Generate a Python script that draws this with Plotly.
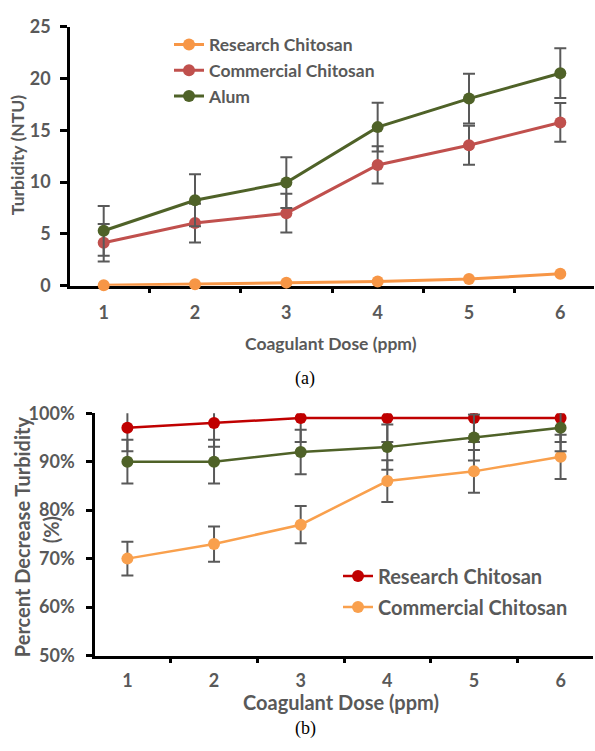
import plotly.graph_objects as go

# ---------------- data ----------------
doses = ["1", "2", "3", "4", "5", "6"]

# (a) Turbidity (NTU)
research_ntu = [0.05, 0.15, 0.3, 0.4, 0.65, 1.15]
commercial_ntu = [4.15, 6.05, 7.0, 11.65, 13.55, 15.75]
alum_ntu = [5.3, 8.25, 9.95, 15.3, 18.05, 20.5]
commercial_ntu_err = [1.8, 1.87, 1.87, 1.8, 1.88, 1.87]
alum_ntu_err = [2.4, 2.5, 2.45, 2.35, 2.4, 2.4]

# (b) Percent decrease turbidity
research_pct = [0.97, 0.98, 0.99, 0.99, 0.99, 0.99]
commercial_pct = [0.70, 0.73, 0.77, 0.86, 0.88, 0.91]
alum_pct = [0.90, 0.90, 0.92, 0.93, 0.95, 0.97]
research_pct_err = [0.0485, 0.049, 0.0495, 0.0495, 0.0495, 0.0495]
commercial_pct_err = [0.035, 0.0365, 0.0385, 0.043, 0.044, 0.0455]
alum_pct_err = [0.045, 0.045, 0.046, 0.0465, 0.0475, 0.0485]

yticks_a = [0, 5, 10, 15, 20, 25]
yticks_b = [0.5, 0.6, 0.7, 0.8, 0.9, 1.0]

# ---------------- style ----------------
W, H = 595, 751
GRAY = "#595959"
FONT = "Lato"
ORANGE = "#F79646"
RED_A = "#C0504D"
GREEN = "#4F6228"
RED_B = "#C00000"
ORANGE_B = "#F9A04D"


def px_x(p):
    return p / W


def px_y(p):
    return (H - p) / H


err_style = dict(type="data", color=GRAY, thickness=2, width=6, visible=True)

fig = go.Figure()

# ---- (a) ----
fig.add_trace(go.Scatter(
    x=doses, y=research_ntu, name="Research Chitosan", mode="lines+markers",
    line=dict(color=ORANGE, width=3), marker=dict(color=ORANGE, size=12),
    xaxis="x", yaxis="y", legend="legend", cliponaxis=False))
fig.add_trace(go.Scatter(
    x=doses, y=commercial_ntu, name="Commercial Chitosan", mode="lines+markers",
    line=dict(color=RED_A, width=3), marker=dict(color=RED_A, size=12),
    error_y=dict(array=commercial_ntu_err, **err_style),
    xaxis="x", yaxis="y", legend="legend", cliponaxis=False))
fig.add_trace(go.Scatter(
    x=doses, y=alum_ntu, name="Alum", mode="lines+markers",
    line=dict(color=GREEN, width=3), marker=dict(color=GREEN, size=12),
    error_y=dict(array=alum_ntu_err, **err_style),
    xaxis="x", yaxis="y", legend="legend", cliponaxis=False))

# ---- (b) ----
fig.add_trace(go.Scatter(
    x=doses, y=research_pct, name="Research Chitosan", mode="lines+markers",
    line=dict(color=RED_B, width=2.5), marker=dict(color=RED_B, size=12),
    error_y=dict(array=research_pct_err, **err_style), legendgroup="rb",
    xaxis="x2", yaxis="y2", legend="legend2"))
fig.add_trace(go.Scatter(
    x=doses, y=commercial_pct, name="Commercial Chitosan", mode="lines+markers",
    line=dict(color=ORANGE_B, width=2.5), marker=dict(color=ORANGE_B, size=12),
    error_y=dict(array=commercial_pct_err, **err_style), legendgroup="cb",
    xaxis="x2", yaxis="y2", legend="legend2"))
fig.add_trace(go.Scatter(
    x=doses, y=alum_pct, name="Alum", mode="lines+markers", showlegend=False,
    line=dict(color=GREEN, width=2.5), marker=dict(color=GREEN, size=12),
    error_y=dict(array=alum_pct_err, **err_style), legendgroup="ab",
    xaxis="x2", yaxis="y2", legend="legend2"))

axis_common = dict(showline=True, linecolor="black", linewidth=2.5,
                   showgrid=False, zeroline=False, ticks="outside",
                   tickcolor="black", tickwidth=2.5, layer="below traces")

tick_font_a = dict(family=FONT, size=18, weight="bold", color=GRAY)
tick_font_b = dict(family=FONT, size=18, weight="bold", color=GRAY)

fig.update_layout(
    width=W, height=H,
    margin=dict(l=0, r=0, t=0, b=0),
    paper_bgcolor="white", plot_bgcolor="white",
    font=dict(family=FONT, color=GRAY),
    xaxis=dict(domain=[px_x(70), px_x(594)], anchor="y", type="category",
               tickson="boundaries", ticklen=5, ticklabelstandoff=9,
               tickfont=tick_font_a, **axis_common),
    yaxis=dict(domain=[px_y(282), px_y(15)], anchor="x", range=[0, 25],
               tickvals=yticks_a, ticklen=7, ticklabelstandoff=6,
               tickfont=tick_font_a, **axis_common),
    xaxis2=dict(domain=[px_x(95), px_x(593)], anchor="y2", type="category",
                tickson="boundaries", ticklen=5, ticklabelstandoff=7,
                tickfont=tick_font_b, **axis_common),
    yaxis2=dict(domain=[px_y(663), px_y(413.3)], anchor="x2", range=[0.5, 1.0],
                tickvals=yticks_b, tickformat=".0%", ticklen=6, ticklabelstandoff=8,
                tickfont=tick_font_b, **axis_common),
    legend=dict(x=px_x(169), y=px_y(15), xanchor="left", yanchor="top",
                bgcolor="rgba(0,0,0,0)", tracegroupgap=0,
                font=dict(family=FONT, size=17.5, weight="bold", color=GRAY)),
    legend2=dict(x=px_x(338), y=px_y(561), xanchor="left", yanchor="top",
                 bgcolor="rgba(0,0,0,0)", tracegroupgap=2,
                 font=dict(family=FONT, size=20, weight="bold", color=GRAY)),
)

title_font_a = dict(family=FONT, size=17.5, weight="bold", color=GRAY)
title_font_b = dict(family=FONT, size=20, weight="bold", color=GRAY)
label_font = dict(family="Liberation Serif", size=18, color="black")

annotations = [
    dict(text="Turbidity (NTU)", x=px_x(17.5), y=px_y(148), textangle=-90, font=title_font_a),
    dict(text="Coagulant Dose (ppm)", x=px_x(331), y=px_y(341), font=title_font_a),
    dict(text="(a)", x=px_x(305), y=px_y(378), font=label_font),
    dict(text="Percent Decrease Turbidity", x=px_x(22), y=px_y(541), textangle=-90, font=title_font_b),
    dict(text="(%)", x=px_x(51), y=px_y(534), textangle=-90, font=title_font_b),
    dict(text="Coagulant Dose (ppm)", x=px_x(341), y=px_y(711), font=title_font_b),
    dict(text="(b)", x=px_x(305), y=px_y(738), font=label_font),
]
for a in annotations:
    fig.add_annotation(xref="paper", yref="paper", showarrow=False,
                       xanchor="center", yanchor="middle", **a)

fig.write_html("out.html", config={"displayModeBar": False},
               post_script="document.body.style.margin='0';document.body.style.overflow='hidden';")
